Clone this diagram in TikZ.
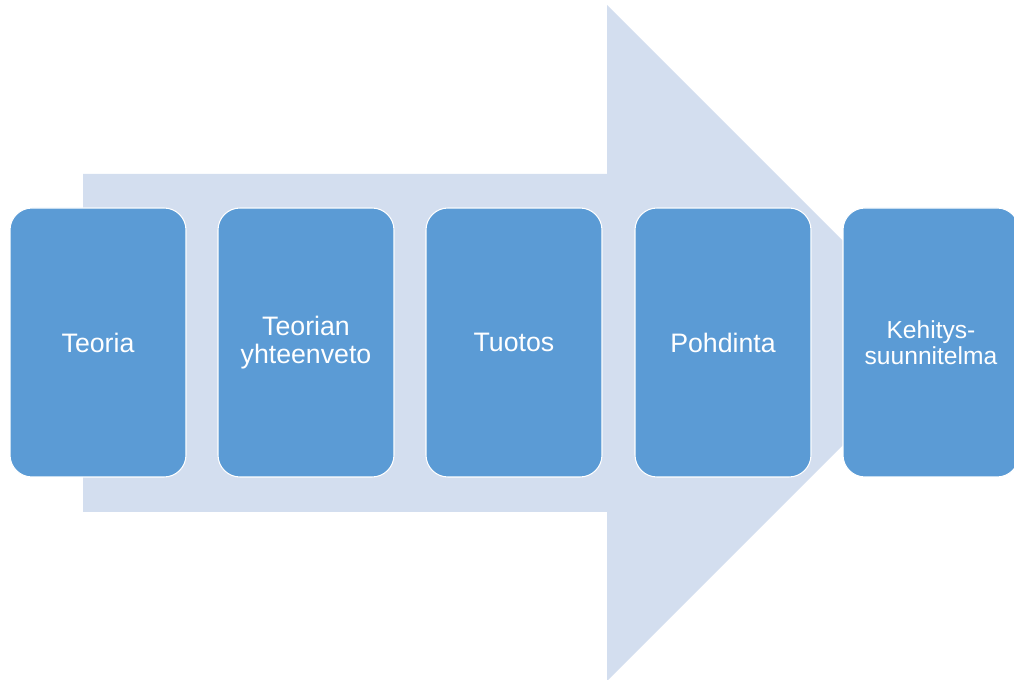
\documentclass[tikz,border=0pt]{standalone}
\usepackage{fontspec}
\setmainfont{Liberation Sans}
\usepackage{xcolor}
\usepackage{tikz}
\definecolor{stepblue}{RGB}{91,155,213}
\definecolor{arrowbg}{RGB}{211,222,239}

\begin{document}
\begin{tikzpicture}[
  stepbox/.style={draw=white,line width=0.6pt,fill=stepblue,rounded corners=0.44cm,minimum width=3.52cm,minimum height=5.38cm,inner sep=2pt,text=white,align=center,font=\fontsize{15.2}{16.3}\selectfont},
  smalltxt/.style={font=\fontsize{14}{15}\selectfont}
]
\useasboundingbox (0,0) rectangle (20.28,-13.6);
% big background arrow
\fill[arrowbg] (1.66,-3.48) -- (12.14,-3.48) -- (12.14,-0.1) -- (18.9,-6.86)
  -- (12.14,-13.62) -- (12.14,-10.24) -- (1.66,-10.24) -- cycle;

\node[stepbox] (teoria) at (1.96,-6.85) {Teoria};
\node[stepbox] (yhteenveto) at (6.12,-6.85) {Teorian\\yhteenveto};
\node[stepbox] (tuotos) at (10.28,-6.85) {Tuotos};
\node[stepbox] (pohdinta) at (14.46,-6.85) {Pohdinta};
\node[stepbox,smalltxt] (kehitys) at (18.62,-6.85) {Kehitys-\\suunnitelma};
\end{tikzpicture}
\end{document}
